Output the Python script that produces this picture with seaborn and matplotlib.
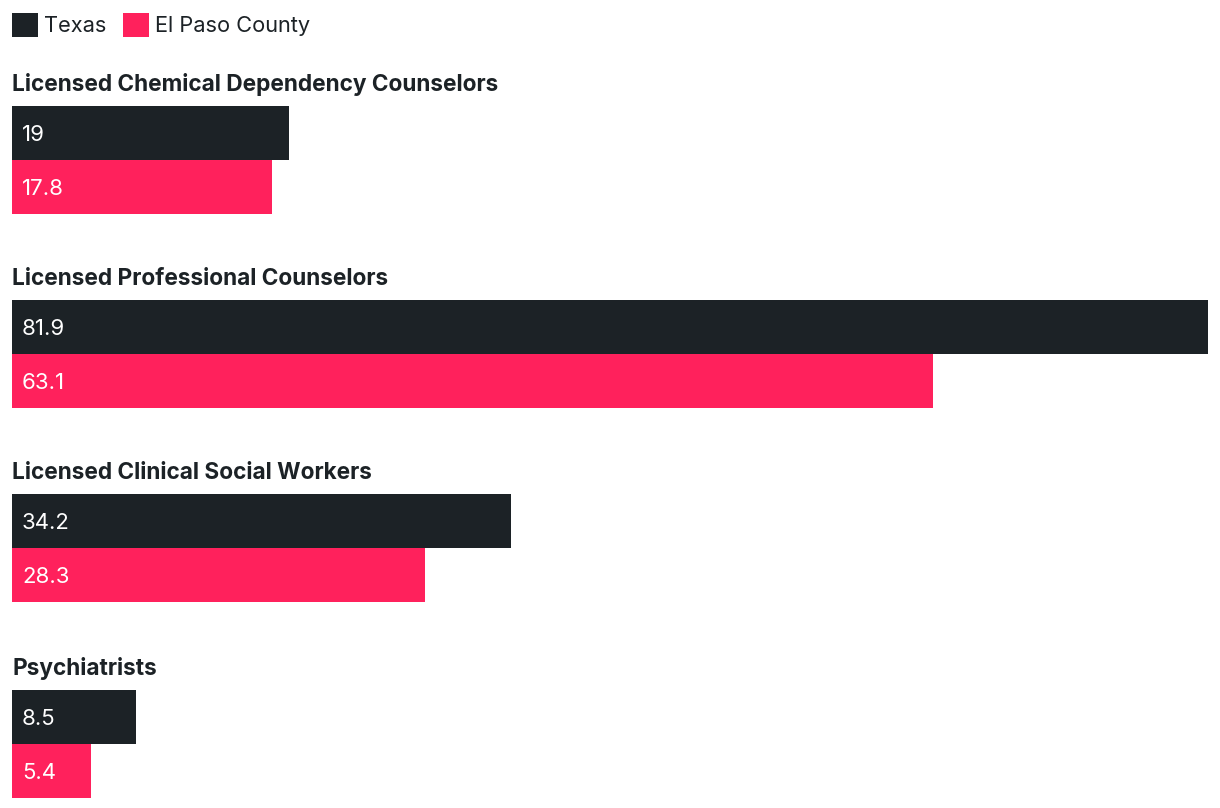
import pandas as pd
import seaborn as sns
import matplotlib.pyplot as plt
from matplotlib.patches import Patch

# data
professions = ['Licensed Chemical Dependency Counselors',
               'Licensed Professional Counselors',
               'Licensed Clinical Social Workers',
               'Psychiatrists']
regions = ['Texas', 'El Paso County']
texas = [19, 81.9, 34.2, 8.5]
el_paso = [17.8, 63.1, 28.3, 5.4]
labels_texas = ['19', '81.9', '34.2', '8.5']
labels_el_paso = ['17.8', '63.1', '28.3', '5.4']

colors = {'Texas': '#1c2226', 'El Paso County': '#ff215c'}

sns.set_theme(style='white')
plt.rcParams['font.family'] = ['Inter', 'DejaVu Sans']

W, H = 1220, 808
fig = plt.figure(figsize=(W / 100, H / 100), dpi=100)

tops = [106, 300, 494, 690]
left, right = 12, 1208
xmax = 81.9

for i, prof in enumerate(professions):
    df = pd.DataFrame({'region': regions,
                       'value': [texas[i], el_paso[i]],
                       'label': [labels_texas[i], labels_el_paso[i]]})
    ax = fig.add_axes([left / W, 1 - (tops[i] + 108) / H, (right - left) / W, 108 / H])
    sns.barplot(data=df, x='value', y='region', hue='region', palette=colors,
                width=1, ax=ax, legend=False, saturation=1, linewidth=0)
    ax.set_xlim(0, xmax)
    ax.set_ylim(1.5, -0.5)
    ax.axis('off')
    for j, row in df.iterrows():
        ax.annotate(row['label'], xy=(0, j), xytext=(7.2, -6), textcoords='offset points',
                    color='white', fontsize=16, va='baseline', ha='left')
    ax.annotate(prof, xy=(0, 1), xycoords='axes fraction', xytext=(0, 10.8),
                textcoords='offset points', fontsize=16.3, fontweight='bold',
                color='#1c2226', va='baseline', ha='left')

handles = [Patch(facecolor=colors[r], edgecolor='none', label=r) for r in regions]
fig.legend(handles=handles, loc='upper left', bbox_to_anchor=(12 / W, 1 - 13 / H),
           ncol=2, frameon=False, fontsize=15.7, handlelength=1.2, handleheight=1.3,
           handletextpad=0.27, columnspacing=0.75, borderpad=0, borderaxespad=0,
           labelcolor='#1c2226')

fig.savefig('out.png', dpi=100)
